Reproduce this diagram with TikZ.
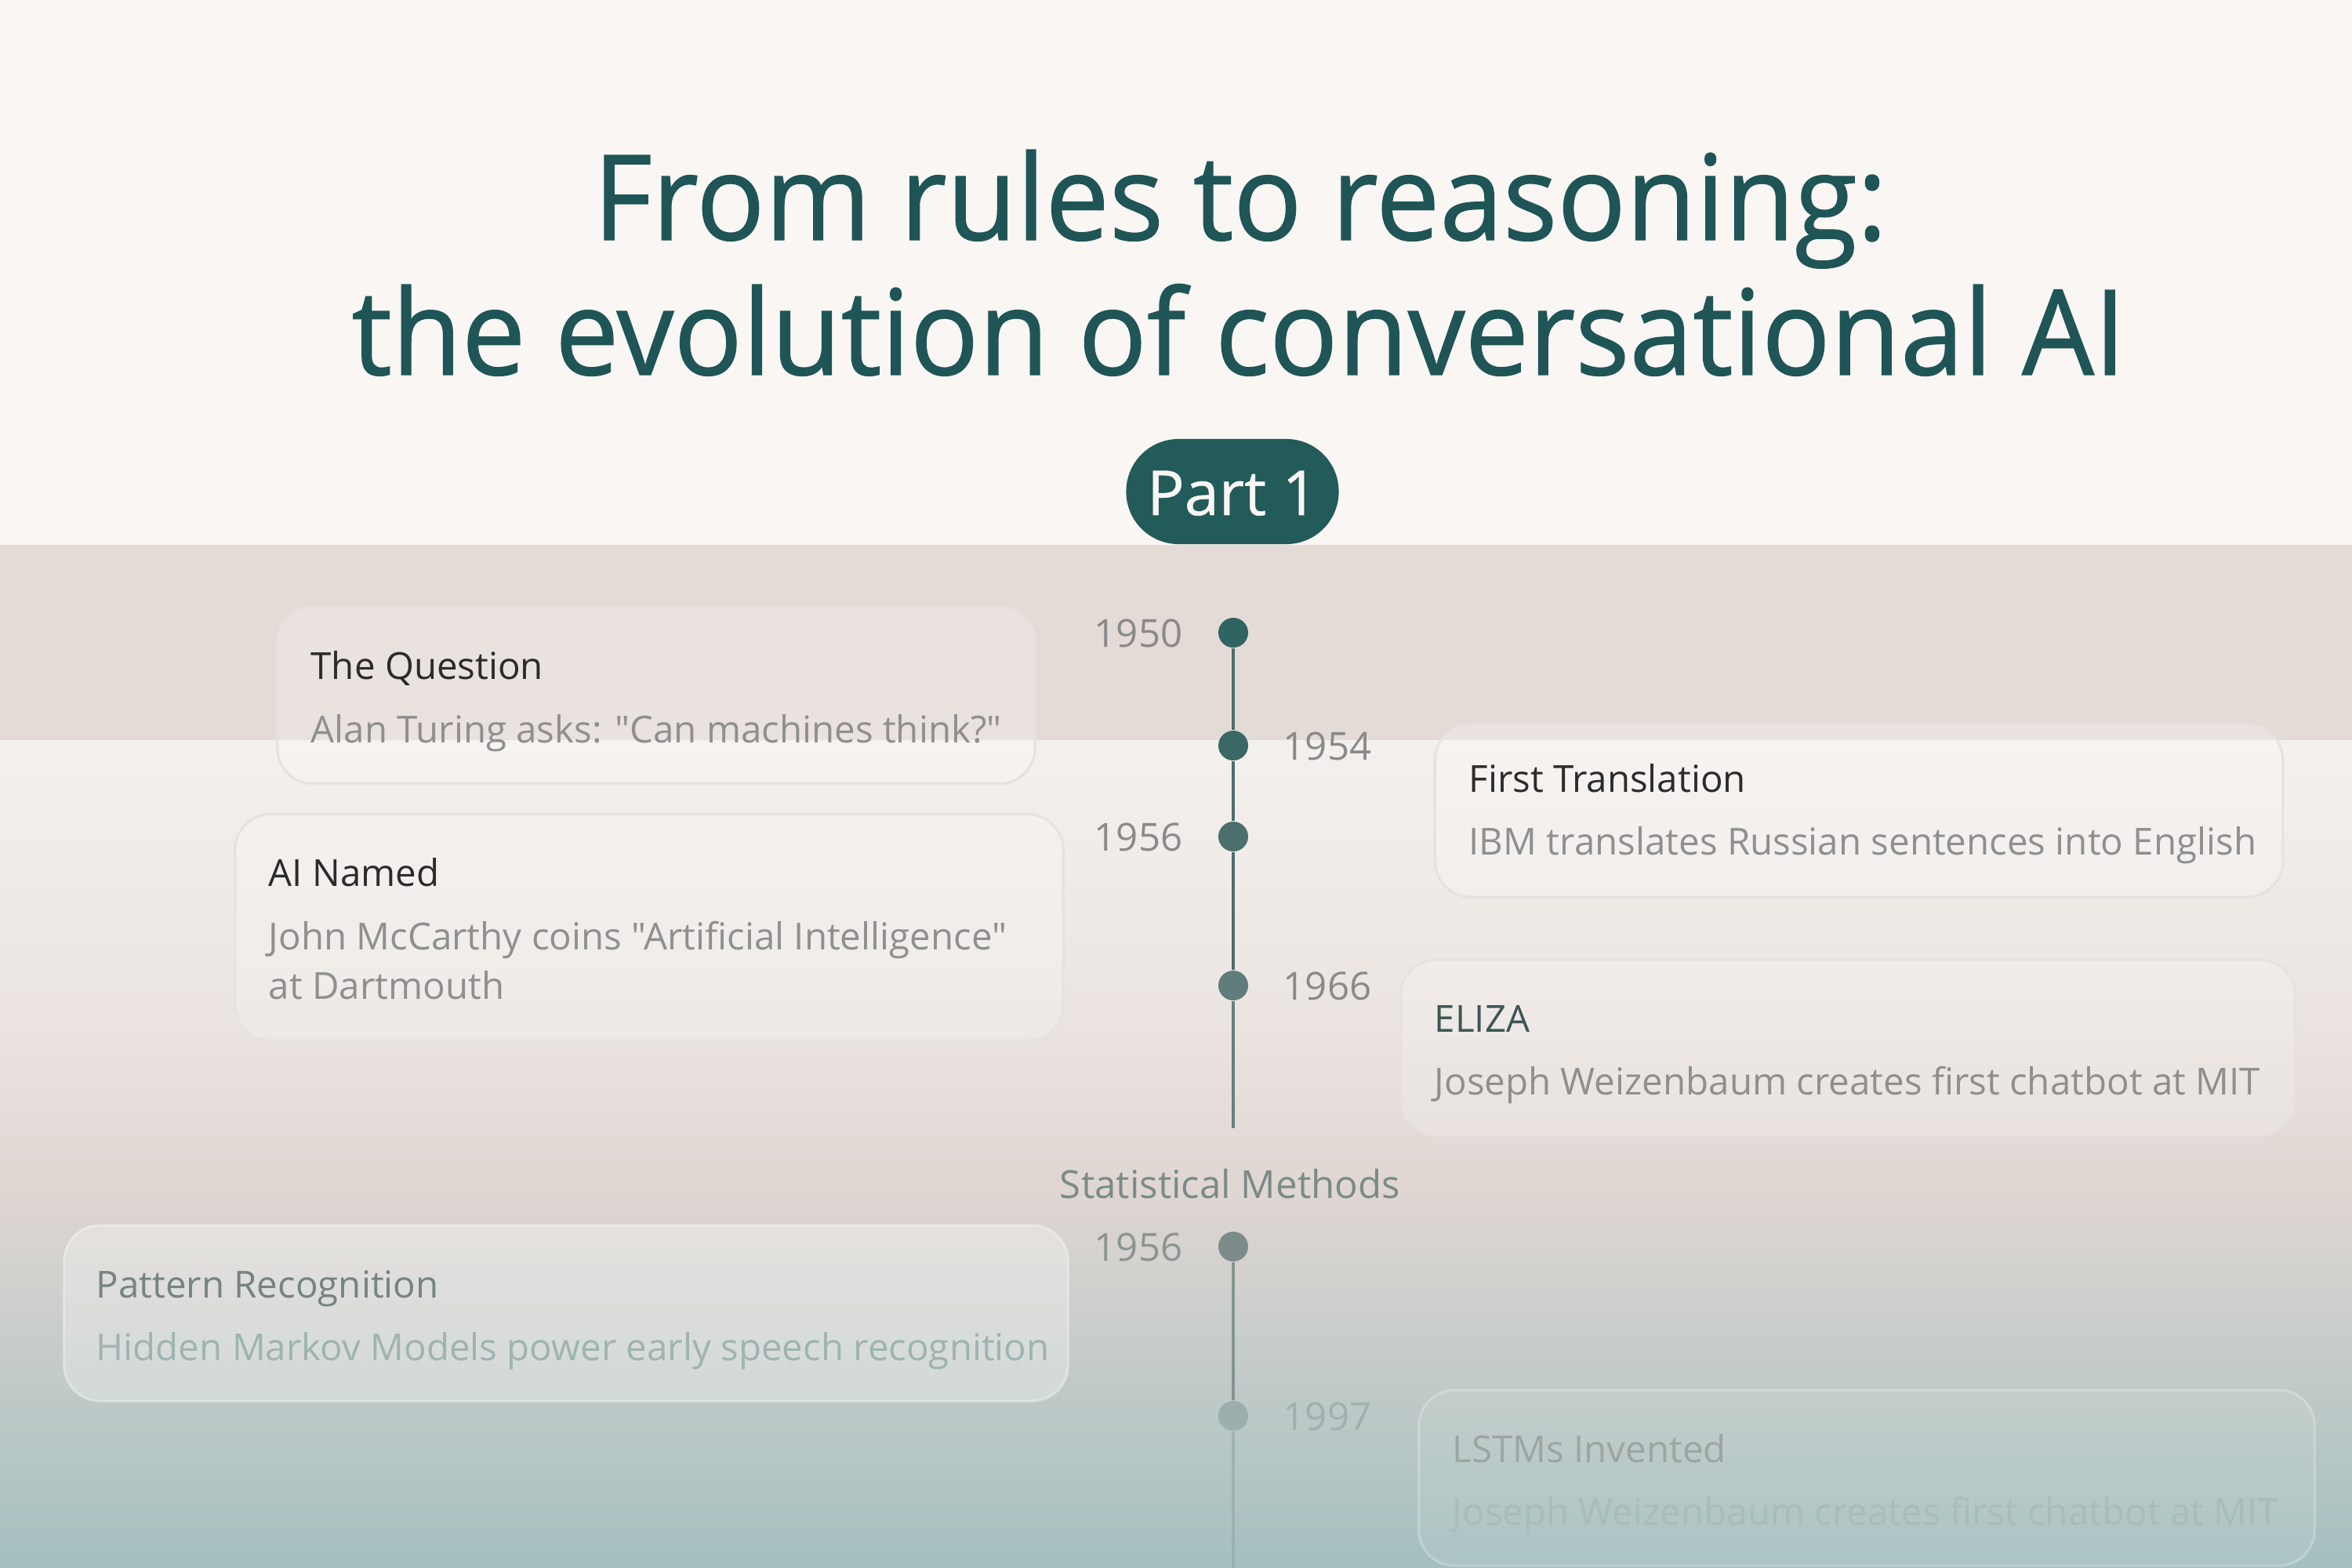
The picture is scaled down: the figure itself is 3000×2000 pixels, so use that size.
\documentclass[tikz,border=0pt]{standalone}
\usepackage{fontspec}
\setmainfont{Open Sans}[Ligatures=TeXOff]
\newfontfamily\titlefont{Open Sans}[Ligatures=TeXOff,FakeBold=0.9,FakeStretch=0.96]
\newfontfamily\pillfont{Open Sans}[Ligatures=TeXOff,FakeBold=0.6]
\begin{document}
\begin{tikzpicture}[x=0.01cm,y=-0.01cm]
\definecolor{cream}{HTML}{F9F6F3}
\definecolor{bandtop}{HTML}{E4DBD7}
\definecolor{bandlight}{HTML}{F4F0ED}
\definecolor{bandmid}{HTML}{EDE7E3}
\definecolor{bandlow}{HTML}{DFD6D2}
\definecolor{bandteal}{HTML}{A4BFBF}
\definecolor{titleteal}{HTML}{1F5556}
\definecolor{pillteal}{HTML}{225B59}
\definecolor{axisteal}{HTML}{4C6E6C}
\definecolor{yeargray}{HTML}{8A8A8A}
\definecolor{cardtitle}{HTML}{2B2B2B}
\definecolor{descgray}{HTML}{8F8F8F}
\definecolor{cardedge}{HTML}{E6E2DF}
\tikzset{
  cardbox/.style={rectangle, rounded corners=13pt, draw=cardedge, line width=0.9pt,
    fill=white, fill opacity=0.22, inner sep=0pt},
  dotnode/.style={circle, inner sep=0pt, minimum size=0.38cm},
  yearlbl/.style={font=\fontsize{14}{16}\selectfont, text=yeargray, inner sep=0pt},
  ctitle/.style={anchor=base west, font=\fontsize{13.5}{16}\selectfont, text=cardtitle, inner sep=0pt},
  cdesc/.style={anchor=base west, font=\fontsize{13.5}{16}\selectfont, text=descgray, inner sep=0pt},
  axisline/.style={draw=axisteal, line width=1.1pt},
  titleline/.style={anchor=base, font=\titlefont\fontsize{43}{52}\selectfont, text=titleteal, inner sep=0pt}
}
\useasboundingbox (0,0) rectangle (3000,2000);
% backgrounds
\fill[cream] (0,0) rectangle (3000,696);
\fill[bandtop] (0,695) rectangle (3000,945);
\shade[top color=bandlight, bottom color=bandmid] (0,944) rectangle (3000,1250);
\shade[top color=bandmid, bottom color=bandlow] (0,1249) rectangle (3000,1520);
\shade[top color=bandlow, bottom color=bandteal] (0,1519) rectangle (3000,2000);

% title
\node[titleline] (t1) at (1582,306) {From rules to reasoning:};
\node[titleline] (t2) at (1580,478) {the evolution of conversational AI};
\node[rectangle, rounded corners=19pt, fill=pillteal, minimum width=2.71cm, minimum height=1.34cm, inner sep=0pt] (pill) at (1572,627) {};
\node[anchor=base, font=\pillfont\fontsize{22.5}{26}\selectfont, text={rgb,255:red,250;green,246;blue,244}, inner sep=0pt] (pilltxt) at (1572,657) {Part 1};

% cards
\node[cardbox, minimum width=9.66cm, minimum height=2.25cm] (c1) at (837,887) {};
\node[cardbox, minimum width=10.56cm, minimum height=2.89cm] (c2) at (828,1183) {};
\node[cardbox, minimum width=10.81cm, minimum height=2.20cm] (c3) at (2371,1034) {};
\node[cardbox, minimum width=11.40cm, minimum height=2.24cm] (c4) at (2357,1336) {};
\node[cardbox, minimum width=12.80cm, minimum height=2.24cm, fill opacity=0.3, draw=white, draw opacity=0.35] (c5) at (722,1675) {};
\node[cardbox, minimum width=11.42cm, minimum height=2.24cm, fill opacity=0.08, draw=white, draw opacity=0.25] (c6) at (2381,1885) {};

\node[ctitle] (c1t) at (396,866) {The Question};
\node[cdesc] (c1d) at (396,947) {Alan Turing asks: "Can machines think?"};
\node[ctitle] (c2t) at (342,1130) {AI Named};
\node[cdesc] (c2d) at (342,1211) {John McCarthy coins "Artificial Intelligence"};
\node[cdesc] (c2e) at (342,1274) {at Dartmouth};
\node[ctitle] (c3t) at (1873,1010) {First Translation};
\node[cdesc] (c3d) at (1873,1090) {IBM translates Russian sentences into English};
\node[ctitle, text={rgb,255:red,60;green,86;blue,84}] (c4t) at (1829,1316) {ELIZA};
\node[cdesc] (c4d) at (1829,1396) {Joseph Weizenbaum creates first chatbot at MIT};
\node[ctitle, text={rgb,255:red,118;green,132;blue,127}] (c5t) at (122,1655) {Pattern Recognition};
\node[cdesc, text={rgb,255:red,158;green,180;blue,177}] (c5d) at (122,1735) {Hidden Markov Models power early speech recognition};
\node[ctitle, text={rgb,255:red,157;green,165;blue,163}] (c6t) at (1852,1865) {LSTMs Invented};
\node[cdesc, text={rgb,255:red,168;green,188;blue,187}] (c6d) at (1852,1945) {Joseph Weizenbaum creates first chatbot at MIT};

% timeline 1
\node[dotnode, fill={rgb,255:red,47;green,100;blue,98}] (d1950) at (1573,807) {};
\node[dotnode, fill={rgb,255:red,58;green,104;blue,102}] (d1954) at (1573,951) {};
\node[dotnode, fill={rgb,255:red,74;green,111;blue,109}] (d1956) at (1573,1067) {};
\node[dotnode, fill={rgb,255:red,94;green,125;blue,123}] (d1966) at (1573,1257) {};
\coordinate (end1) at (1573,1439);
\draw[axisline] (d1950.south) -- (d1954.north);
\draw[axisline] (d1954.south) -- (d1956.north);
\draw[axisline] (d1956.south) -- (d1966.north);
\draw[axisline, draw={rgb,255:red,100;green,128;blue,126}] (d1966.south) -- (end1);

\node[yearlbl, anchor=base east] (y1950) at (1509,825) {1950};
\node[yearlbl, anchor=base west] (y1954) at (1636,969) {1954};
\node[yearlbl, anchor=base east] (y1956) at (1509,1085) {1956};
\node[yearlbl, anchor=base west] (y1966) at (1636,1275) {1966};

% statistical methods
\node[anchor=base, font=\fontsize{14}{16}\selectfont, text={rgb,255:red,123;green,139;blue,135}, inner sep=0pt] (stat) at (1569,1528) {Statistical Methods};

\node[dotnode, fill={rgb,255:red,124;green,140;blue,138}] (d1956b) at (1573,1590) {};
\node[dotnode, fill={rgb,255:red,156;green,175;blue,174}] (d1997) at (1573,1806) {};
\coordinate (end2) at (1573,2000);
\draw[line width=1pt, draw={rgb,255:red,132;green,148;blue,146}] (d1956b.south) -- (d1997.north);
\draw[line width=1pt, draw={rgb,255:red,150;green,170;blue,169}, draw opacity=0.7] (d1997.south) -- (end2);
\node[yearlbl, anchor=base east, text={rgb,255:red,140;green,148;blue,146}] (y1956b) at (1509,1608) {1956};
\node[yearlbl, anchor=base west, text={rgb,255:red,160;green,176;blue,175}] (y1997) at (1636,1824) {1997};
\end{tikzpicture}
\end{document}
